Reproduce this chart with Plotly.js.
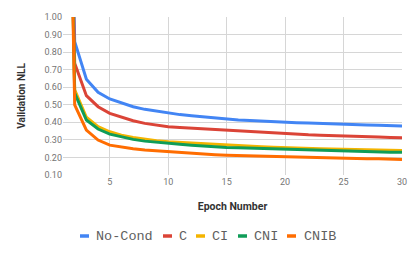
<!DOCTYPE html>
<html><head><meta charset="utf-8">
<script src="https://cdn.plot.ly/plotly-3.0.1.min.js"></script>
<style>html,body{margin:0;padding:0;background:#fff}#chart{width:415px;height:257px}</style>
</head><body><div id="chart"></div>
<script>
const epochs = [1,2,3,4,5,6,7,8,9,10,11,12,13,14,15,16,17,18,19,20,21,22,23,24,25,26,27,28,29,30];
const seriesNames = ["No-Cond", "C", "CI", "CNI", "CNIB"];
const noCond = [4.0,0.860,0.646,0.571,0.533,0.509,0.489,0.474,0.463,0.451,0.444,0.437,0.430,0.423,0.417,0.413,0.410,0.406,0.403,0.400,0.398,0.396,0.393,0.391,0.389,0.387,0.385,0.383,0.381,0.379];
const cVals  = [4.0,0.737,0.552,0.489,0.451,0.429,0.409,0.394,0.383,0.375,0.371,0.367,0.362,0.358,0.354,0.350,0.346,0.342,0.338,0.334,0.331,0.329,0.327,0.324,0.322,0.320,0.318,0.316,0.314,0.312];
const ciVals = [4.0,0.585,0.429,0.375,0.346,0.327,0.314,0.303,0.295,0.289,0.285,0.281,0.277,0.273,0.270,0.267,0.264,0.261,0.258,0.255,0.253,0.251,0.249,0.248,0.246,0.245,0.244,0.242,0.241,0.240];
const cniVals = [4.0,0.566,0.413,0.362,0.333,0.316,0.303,0.293,0.286,0.280,0.275,0.270,0.265,0.261,0.257,0.255,0.253,0.250,0.248,0.246,0.244,0.241,0.239,0.236,0.234,0.233,0.232,0.231,0.230,0.229];
const cnibVals = [4.0,0.499,0.356,0.299,0.270,0.258,0.249,0.242,0.237,0.232,0.228,0.224,0.220,0.216,0.213,0.211,0.209,0.207,0.205,0.203,0.202,0.200,0.199,0.197,0.196,0.195,0.193,0.192,0.190,0.189];
const seriesValues = [noCond, cVals, ciVals, cniVals, cnibVals];
const colors = ["#4285F4", "#DB4437", "#F4B400", "#0F9D58", "#FF6D01"];

const traces = seriesNames.map((name, i) => ({
  x: epochs, y: seriesValues[i], name: name, type: "scatter", mode: "lines",
  line: {color: colors[i], width: 3}, showlegend: false, cliponaxis: true
}));

// Legend layout (pixel positions converted to paper coords)
const L = 63, R = 13, T = 17, B = 82, W = 415, H = 257;
const pw = W - L - R, ph = H - T - B;
const px = v => (v - L) / pw;
const py = v => (H - B - v) / ph;
const legendDash = [[80, 89], [163, 172], [196, 205], [238, 247], [287, 296]];
const legendText = [94, 177, 210, 252, 302];
const legendY = 236;

const shapes = seriesNames.map((n, i) => ({
  type: "line", xref: "paper", yref: "paper",
  x0: px(legendDash[i][0]), x1: px(legendDash[i][1]), y0: py(legendY), y1: py(legendY),
  line: {color: colors[i], width: 3.5}
}));
const annotations = seriesNames.map((n, i) => ({
  text: n, xref: "paper", yref: "paper", x: px(legendText[i]), y: py(legendY),
  xanchor: "left", yanchor: "middle", showarrow: false,
  font: {family: "Liberation Mono, DejaVu Sans Mono, monospace", size: 13.5, color: "#5f5f5f"}
}));

const layout = {
  width: W, height: H,
  margin: {l: L, r: R, t: T, b: B, pad: 0},
  paper_bgcolor: "#fff", plot_bgcolor: "#fff",
  showlegend: false,
  font: {family: "Roboto, sans-serif", color: "#666"},
  xaxis: {
    range: [1, 30], tick0: 0, dtick: 5, ticks: "", showline: false, zeroline: false,
    gridcolor: "#d6d6d6", gridwidth: 1,
    tickfont: {family: "Roboto", size: 9, color: "#757575"},
    title: {text: "Epoch Number", standoff: 16, font: {family: "Roboto", size: 10.5, color: "#333", weight: 700}}
  },
  yaxis: {
    range: [0.1, 1.0], dtick: 0.1, tick0: 0, tickformat: ".2f", ticks: "", showline: false, zeroline: false,
    gridcolor: "#d6d6d6", gridwidth: 1,
    tickfont: {family: "Roboto", size: 9, color: "#757575"},
    title: {text: "Validation NLL", standoff: 16, font: {family: "Roboto", size: 10, color: "#333", weight: 700}}
  },
  shapes: shapes,
  annotations: annotations
};

Plotly.newPlot("chart", traces, layout, {displayModeBar: false, staticPlot: true});
</script>
</body></html>
